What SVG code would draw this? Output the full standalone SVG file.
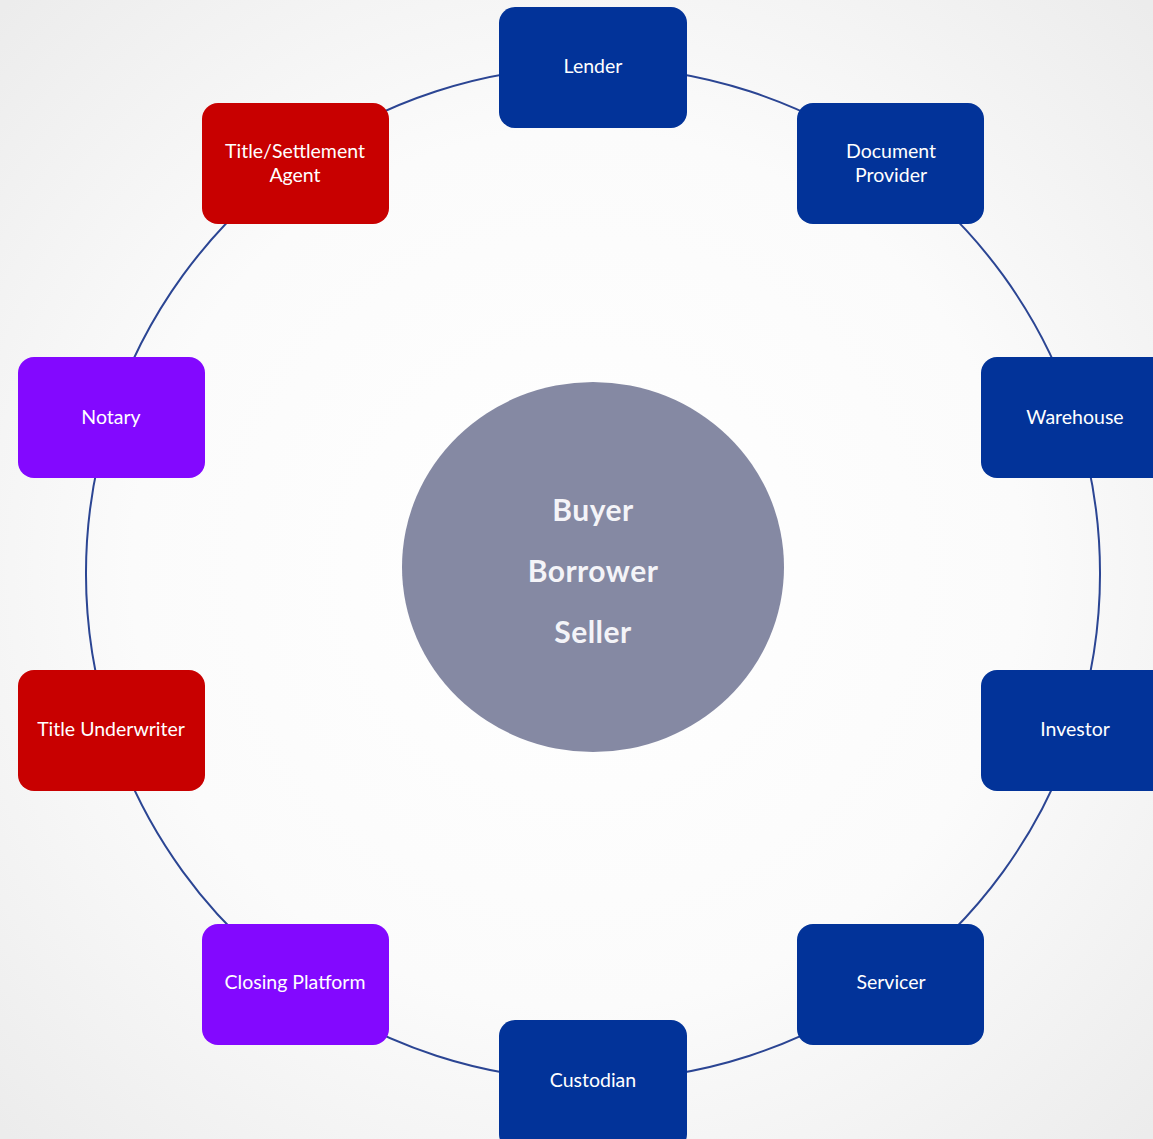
<svg xmlns="http://www.w3.org/2000/svg" width="1153" height="1139" viewBox="0 0 1153 1139">
<defs>
<radialGradient id="bg" cx="50%" cy="50%" r="70%">
<stop offset="0" stop-color="#ffffff"/>
<stop offset="0.55" stop-color="#fbfbfb"/>
<stop offset="1" stop-color="#ececec"/>
</radialGradient>
<style>
.node rect{stroke:none}
.blue rect{fill:#023399}
.red rect{fill:#C80000}
.purple rect{fill:#8308FF}
.lbl{font-family:Lato,"Open Sans","Liberation Sans",sans-serif;font-size:19.5px;fill:#ffffff;text-anchor:middle}
.ctr{font-family:Lato,"Open Sans","Liberation Sans",sans-serif;font-size:30px;font-weight:bold;letter-spacing:0.5px;fill:#f4f4f8;text-anchor:middle}
.ring{fill:none;stroke:#2B4593;stroke-width:2}
</style>
</defs>
<rect x="0" y="0" width="1153" height="1139" fill="url(#bg)"/>
<g id="connectors">
<path class="ring" d="M593,66.5 A507,507 0 0 1 891,163.3"/>
<path class="ring" d="M891,163.3 A507,507 0 0 1 1075.2,416.8"/>
<path class="ring" d="M1075.2,416.8 A507,507 0 0 1 1075.2,730.2"/>
<path class="ring" d="M1075.2,730.2 A507,507 0 0 1 891,983.7"/>
<path class="ring" d="M891,983.7 A507,507 0 0 1 593,1080.5"/>
<path class="ring" d="M593,1080.5 A507,507 0 0 1 295,983.7"/>
<path class="ring" d="M295,983.7 A507,507 0 0 1 110.8,730.2"/>
<path class="ring" d="M110.8,730.2 A507,507 0 0 1 110.8,416.8"/>
<path class="ring" d="M110.8,416.8 A507,507 0 0 1 295,163.3"/>
<path class="ring" d="M295,163.3 A507,507 0 0 1 593,66.5"/>
</g>
<g id="center">
<ellipse cx="593" cy="567" rx="191" ry="185" fill="#8589A3"/>
<text class="ctr" x="593" y="521">Buyer</text>
<text class="ctr" x="593" y="582">Borrower</text>
<text class="ctr" x="593" y="643">Seller</text>
</g>
<g id="lender" class="node blue"><rect x="499" y="7" width="188" height="121" rx="16"/><text class="lbl" x="593" y="73">Lender</text></g>
<g id="document-provider" class="node blue"><rect x="797" y="103" width="187" height="121" rx="16"/><text class="lbl" x="891" y="158">Document</text><text class="lbl" x="891" y="182">Provider</text></g>
<g id="warehouse" class="node blue"><rect x="981" y="357" width="190" height="121" rx="16"/><text class="lbl" x="1075" y="424">Warehouse</text></g>
<g id="investor" class="node blue"><rect x="981" y="670" width="190" height="121" rx="16"/><text class="lbl" x="1075" y="736">Investor</text></g>
<g id="servicer" class="node blue"><rect x="797" y="924" width="187" height="121" rx="16"/><text class="lbl" x="891" y="989">Servicer</text></g>
<g id="custodian" class="node blue"><rect x="499" y="1020" width="188" height="130" rx="16"/><text class="lbl" x="593" y="1087">Custodian</text></g>
<g id="closing-platform" class="node purple"><rect x="202" y="924" width="187" height="121" rx="16"/><text class="lbl" x="295" y="989">Closing Platform</text></g>
<g id="title-underwriter" class="node red"><rect x="18" y="670" width="187" height="121" rx="16"/><text class="lbl" x="111" y="736">Title Underwriter</text></g>
<g id="notary" class="node purple"><rect x="18" y="357" width="187" height="121" rx="16"/><text class="lbl" x="111" y="424">Notary</text></g>
<g id="title-settlement-agent" class="node red"><rect x="202" y="103" width="187" height="121" rx="16"/><text class="lbl" x="295" y="158">Title/Settlement</text><text class="lbl" x="295" y="182">Agent</text></g>
</svg>
